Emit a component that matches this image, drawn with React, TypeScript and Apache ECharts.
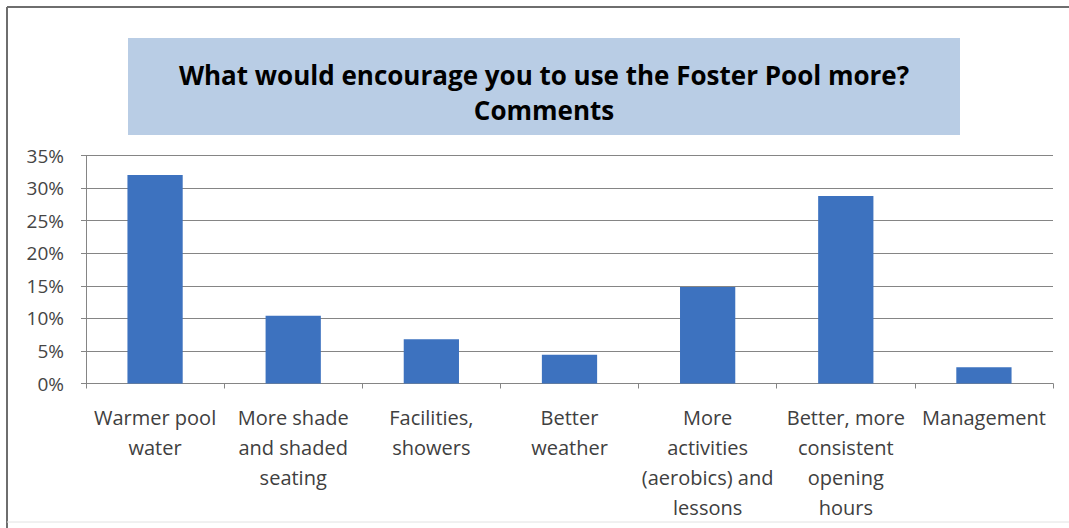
import React, { useEffect, useRef } from "react";
import * as echarts from "echarts";

const categories = [
  "Warmer pool\nwater",
  "More shade\nand shaded\nseating",
  "Facilities,\nshowers",
  "Better\nweather",
  "More\nactivities\n(aerobics) and\nlessons",
  "Better, more\nconsistent\nopening\nhours",
  "Management",
];
const values = [0.32, 0.104, 0.068, 0.044, 0.148, 0.288, 0.025];
const titleLines = ["What would encourage you to use the Foster Pool more?", "Comments"];

export default function App() {
  const ref = useRef<HTMLDivElement>(null);
  useEffect(() => {
    document.body.style.margin = "0";
    const chart = echarts.init(ref.current!, undefined, { renderer: "svg" });
    chart.setOption({
      animation: false,
      backgroundColor: "#ffffff",
      title: {
        text: titleLines.join("\n"),
        left: 544,
        top: 57,
        textAlign: "center",
        padding: 0,
        textStyle: {
          fontFamily: "Open Sans",
          fontWeight: "bold",
          fontSize: 26,
          lineHeight: 35,
          color: "#000000",
        },
        z: 10,
      },
      graphic: [
        { type: "rect", shape: { x: 128, y: 38, width: 832, height: 97 }, style: { fill: "#b9cde5" }, z: 1 },
        { type: "line", shape: { x1: 7, y1: 7, x2: 1069, y2: 7 }, style: { stroke: "#6e6e6e", lineWidth: 2 } },
        { type: "line", shape: { x1: 7, y1: 7, x2: 7, y2: 528 }, style: { stroke: "#6e6e6e", lineWidth: 2 } },
        { type: "line", shape: { x1: 7, y1: 522, x2: 1069, y2: 522 }, style: { stroke: "#e2e2e2", lineWidth: 1 } },
      ],
      grid: { left: 86, right: 16, top: 155.5, bottom: 144.5, containLabel: false },
      xAxis: {
        type: "category",
        data: categories,
        axisLine: { lineStyle: { color: "#858585", width: 1 } },
        axisTick: { show: true, length: 5, lineStyle: { color: "#858585" } },
        axisLabel: {
          interval: 0,
          margin: 19,
          fontFamily: "Open Sans",
          fontSize: 20,
          lineHeight: 30,
          color: "#404040",
        },
      },
      yAxis: {
        type: "value",
        min: 0,
        max: 0.35,
        interval: 0.05,
        axisLine: { show: true, lineStyle: { color: "#858585" } },
        axisTick: { show: true, length: 5, lineStyle: { color: "#858585" } },
        splitLine: { lineStyle: { color: "#858585", width: 1 } },
        axisLabel: {
          margin: 22,
          fontFamily: "Open Sans",
          fontSize: 19,
          color: "#454545",
          formatter: (v: number) => Math.round(v * 100) + "%",
        },
      },
      series: [
        {
          type: "bar",
          data: values,
          barWidth: "40%",
          itemStyle: { color: "#3d72bf" },
        },
      ],
    });
    return () => chart.dispose();
  }, []);
  return <div ref={ref} style={{ width: 1069, height: 528 }} />;
}
